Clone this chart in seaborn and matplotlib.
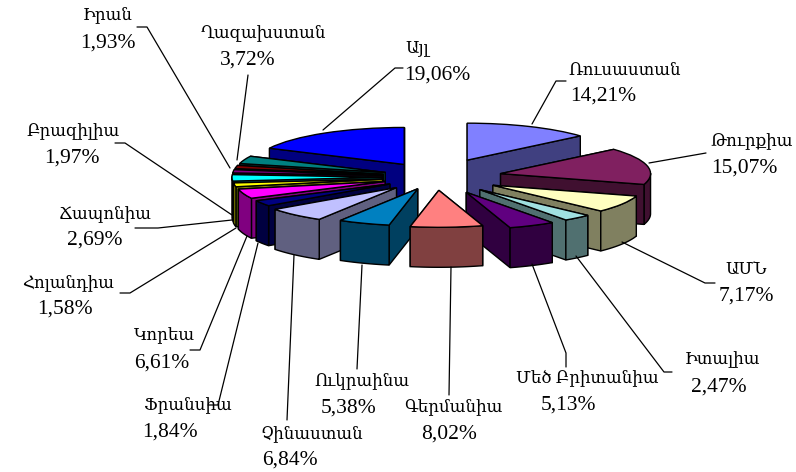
import numpy as np
import seaborn as sns
from matplotlib import pyplot as plt
from matplotlib.colors import to_rgb
from matplotlib.patches import Polygon

# labels as printed on the chart
countries = ["Ռուսաստան", "Թուրքիա", "ԱՄՆ", "Իտալիա", "Մեծ Բրիտանիա", "Գերմանիա", "Ուկրաինա", "Չինաստան",
             "Ֆրանսիա", "Կորեա", "Հոլանդիա", "Ճապոնիա", "Բրազիլիա", "Իրան", "Ղազախստան", "Այլ"]
percent_labels = ["14,21%", "15,07%", "7,17%", "2,47%", "5,13%", "8,02%", "5,38%", "6,84%",
                  "1,84%", "6,61%", "1,58%", "2,69%", "1,97%", "1,93%", "3,72%", "19,06%"]
# slice sizes as they are drawn (degrees, they differ a bit from the printed percents)
slice_sizes = [49, 58, 27, 11, 18, 28, 20, 23, 9, 15, 6, 10, 5, 5, 12, 64]
explode = [0.50, 0.44, 0.44, 0.45, 0.46, 0.36, 0.34, 0.39, 0.36, 0.36, 0.36, 0.36, 0.36, 0.36, 0.36, 0.40]
colors = ["#8080FF", "#802060", "#FFFFC0", "#A0E0E0", "#600080", "#FF8080", "#0080C0", "#C0C0FF",
          "#000080", "#FF00FF", "#FFFF00", "#00FFFF", "#800080", "#800000", "#008080", "#0000FF"]

# label centres and leader lines, in pixels
name_xy = [(625, 71), (752, 142), (746, 270), (722, 360), (587, 379), (453, 407), (362, 381), (312, 434),
           (188, 405), (164, 336), (68, 283), (105, 214), (73, 132), (108, 15), (263, 33), (417, 48)]
pct_xy = [(603, 96), (744, 168), (746, 296), (719, 387), (568, 405), (449, 434), (349, 408), (290, 460),
          (170, 432), (162, 363), (65, 309), (95, 240), (72, 158), (108, 43), (248, 60), (437, 75)]
leaders = [[(532, 124), (556, 81), (566, 81)], [(649, 163), (706, 153)], [(622, 242), (705, 283), (715, 283)],
           [(576, 256), (664, 372), (672, 372)], [(532, 264), (566, 353), (566, 367)], [(451, 267), (449, 395)],
           [(362, 265), (357, 369)], [(294, 255), (287, 420)], [(258, 243), (218, 405), (208, 405)],
           [(247, 236), (200, 350), (190, 350)], [(236, 228), (130, 293), (120, 293)],
           [(232, 220), (158, 228), (135, 228)], [(232, 215), (125, 143), (115, 143)],
           [(230, 168), (147, 27), (137, 27)], [(237, 160), (248, 75)], [(323, 130), (395, 68), (403, 68)]]

sns.set_theme(style="white")
plt.rcParams['font.family'] = ['Liberation Serif', 'DejaVu Serif']

W, H = 796, 472
CX, CY = 436, 177      # pie centre in pixels
RX, RY = 150, 37       # pie radii in pixels
DEPTH = 40 / RY        # thickness in y units of the pie axes

fig = plt.figure(figsize=(W / 100, H / 100), dpi=100, facecolor="white")
ax = fig.add_axes([0, 0, 1, 1])
palette = sns.color_palette(colors)
wedges, _ = ax.pie(slice_sizes, explode=explode, colors=palette, startangle=90, counterclock=False,
                   wedgeprops={"edgecolor": "black", "linewidth": 1.0})
ax.set_xlim(-CX / RX, (W - CX) / RX)
ax.set_ylim(-(H - CY) / RY, CY / RY)
ax.set_aspect("auto")

# thickness: side walls under every wedge, back slices first
order = sorted(range(len(wedges)), key=lambda i: -wedges[i].center[1] - np.sin(np.radians((wedges[i].theta1 + wedges[i].theta2) / 2)))
for rank, i in enumerate(order):
    w = wedges[i]
    cx, cy = w.center
    t1, t2 = w.theta1, w.theta2
    dark = tuple(c * 0.5 for c in to_rgb(palette[i]))
    walls = []
    for t in (t1, t2):
        px, py = cx + np.cos(np.radians(t)), cy + np.sin(np.radians(t))
        walls.append([(cx, cy), (px, py), (px, py - DEPTH), (cx, cy - DEPTH)])
    # outer wall, only where it faces the viewer
    angles = np.linspace(t1, t2, 60)
    angles = angles[np.sin(np.radians(angles)) < 0.02]
    if len(angles) > 1:
        xs = cx + np.cos(np.radians(angles))
        ys = cy + np.sin(np.radians(angles))
        walls.append(list(zip(xs, ys)) + list(zip(xs[::-1], ys[::-1] - DEPTH)))
    walls.sort(key=lambda p: -np.mean([q[1] for q in p]))
    for p in walls:
        ax.add_patch(Polygon(p, closed=True, facecolor=dark, edgecolor="black", linewidth=1.0, zorder=2 + 2 * rank))
    w.set_zorder(3 + 2 * rank)

# overlay in pixel coordinates for the labels
over = fig.add_axes([0, 0, 1, 1])
over.set_xlim(0, W)
over.set_ylim(H, 0)
over.axis("off")
over.patch.set_alpha(0)
for i in range(len(countries)):
    pts = np.array(leaders[i])
    over.plot(pts[:, 0], pts[:, 1], color="black", linewidth=0.9)
    over.text(*name_xy[i], countries[i], ha="center", va="center", fontsize=12, color="black")
    over.text(*pct_xy[i], percent_labels[i], ha="center", va="center", fontsize=15.5, color="black")

fig.savefig("out.png", dpi=100)
